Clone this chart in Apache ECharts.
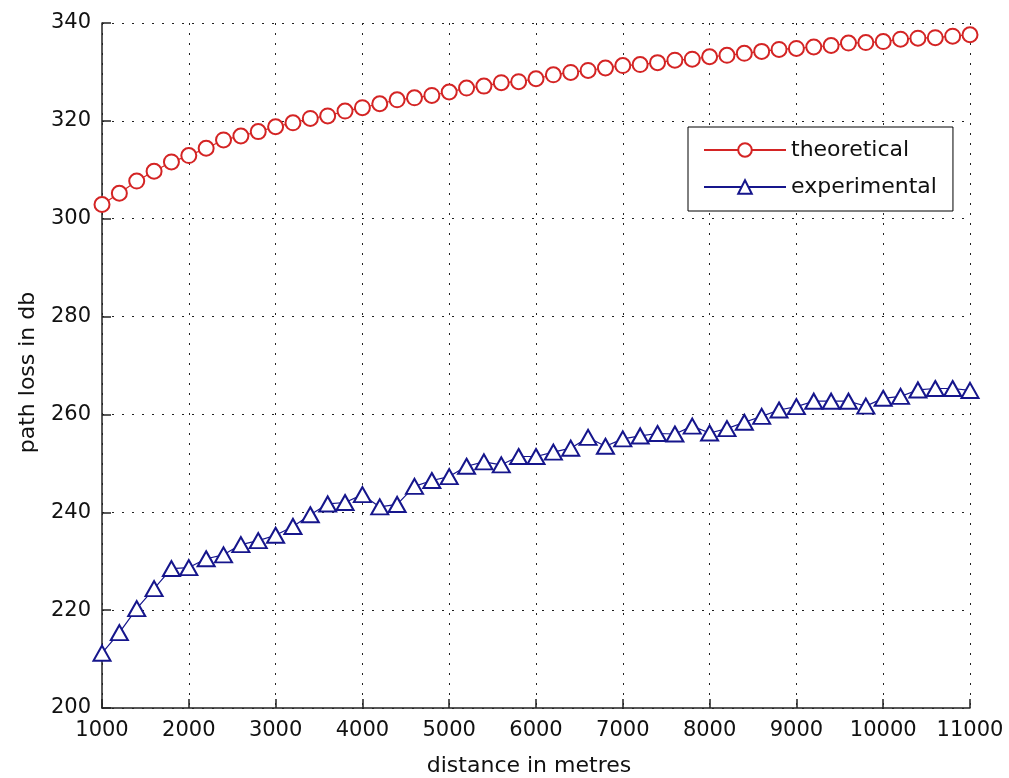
<!DOCTYPE html>
<html>
<head>
<meta charset="utf-8">
<title>path loss</title>
<script src="https://cdn.jsdelivr.net/npm/echarts@6/dist/echarts.min.js"></script>
<style>
  html, body { margin: 0; padding: 0; background: #fff; }
  #chart { width: 1009px; height: 778px; }
</style>
</head>
<body>
<div id="chart"></div>
<script>
'use strict';
// distances in metres (x values)
const distances = [1000, 1200, 1400, 1600, 1800, 2000, 2200, 2400, 2600, 2800,
  3000, 3200, 3400, 3600, 3800, 4000, 4200, 4400, 4600, 4800,
  5000, 5200, 5400, 5600, 5800, 6000, 6200, 6400, 6600, 6800,
  7000, 7200, 7400, 7600, 7800, 8000, 8200, 8400, 8600, 8800,
  9000, 9200, 9400, 9600, 9800, 10000, 10200, 10400, 10600, 10800, 11000];

// path loss
const theoretical = [302.9, 305.2, 307.7, 309.7, 311.6, 312.9, 314.4, 316.1, 316.9, 317.8,
  318.8, 319.6, 320.5, 321.0, 322.0, 322.7, 323.5, 324.3, 324.7, 325.2,
  325.9, 326.7, 327.1, 327.8, 328.0, 328.6, 329.4, 329.9, 330.3, 330.8,
  331.3, 331.5, 331.9, 332.4, 332.6, 333.1, 333.4, 333.8, 334.2, 334.6,
  334.8, 335.1, 335.4, 335.9, 336.0, 336.2, 336.7, 336.9, 337.0, 337.3, 337.6];

const experimental = [211.2, 215.4, 220.3, 224.4, 228.5, 228.7, 230.5, 231.3, 233.4, 234.2,
  235.3, 237.1, 239.5, 241.7, 242.0, 243.6, 241.1, 241.6, 245.3, 246.5,
  247.3, 249.4, 250.3, 249.7, 251.4, 251.4, 252.3, 253.1, 255.3, 253.5,
  255.0, 255.6, 256.1, 256.0, 257.6, 256.2, 257.1, 258.4, 259.6, 260.9,
  261.6, 262.7, 262.7, 262.7, 261.7, 263.3, 263.7, 265.0, 265.3, 265.3, 264.9];

const xTicks = [1000, 11000, 1000];   // min, max, step
const yTicks = [200, 340, 20];

function pairs(xs, ys) {
  let out = [];
  for (let i = 0; i < xs.length; i++) {
    out.push([xs[i], ys[i]]);
  }
  return out;
}

var RED = '#d42424';
var BLUE = '#16168c';
var FONT = 'DejaVu Sans';

var gridDots = {
  show: true,
  lineStyle: { color: '#222', width: 1, type: [2, 8] }
};

var chart = echarts.init(document.getElementById('chart'));

var option = {
  animation: false,
  backgroundColor: '#fff',
  // keep the plot box where it is, names may sit near the edge
  grid: { left: 102, right: 39, top: 23, bottom: 70, containLabel: false, outerBoundsMode: 'none' },
  legend: {
    orient: 'vertical',
    left: 688,
    top: 127,
    padding: [12, 16, 13, 15],
    itemWidth: 82,
    itemHeight: 17,
    itemGap: 15,
    borderColor: '#000',
    borderWidth: 1,
    borderRadius: 0,
    backgroundColor: '#fff',
    textStyle: { fontFamily: FONT, fontSize: 22, lineHeight: 22, color: '#111' },
    data: ['theoretical', 'experimental']
  },
  xAxis: {
    type: 'value',
    min: xTicks[0],
    max: xTicks[1],
    interval: xTicks[2],
    name: 'distance in metres',
    nameLocation: 'middle',
    nameGap: 47,
    nameTextStyle: { fontFamily: FONT, fontSize: 22, color: '#111', padding: [0, 14, 0, 0] },
    axisLine: { show: true, lineStyle: { color: '#222', width: 1.5 } },
    axisTick: { show: true, inside: true, length: 9, lineStyle: { color: '#222', width: 1.5 } },
    axisLabel: {
      fontFamily: FONT, fontSize: 21, lineHeight: 21, color: '#111', margin: 12,
      formatter: function (v) { return String(v); }
    },
    splitLine: gridDots
  },
  yAxis: {
    type: 'value',
    min: yTicks[0],
    max: yTicks[1],
    interval: yTicks[2],
    name: 'path loss in db',
    nameLocation: 'middle',
    nameGap: 63,
    nameTextStyle: { fontFamily: FONT, fontSize: 22, color: '#111', padding: [0, 14, 0, 0] },
    axisLine: { show: true, lineStyle: { color: '#222', width: 1.5 } },
    axisTick: { show: true, inside: true, length: 9, lineStyle: { color: '#222', width: 1.5 } },
    axisLabel: { fontFamily: FONT, fontSize: 21, color: '#111', margin: 11 },
    splitLine: gridDots
  },
  series: [
    {
      name: 'theoretical',
      type: 'line',
      data: pairs(distances, theoretical),
      symbol: 'emptyCircle',
      symbolSize: 15,
      showAllSymbol: true,
      lineStyle: { color: RED, width: 1.2 },
      itemStyle: { color: RED, borderColor: RED, borderWidth: 1.2 }
    },
    {
      name: 'experimental',
      type: 'line',
      data: pairs(distances, experimental),
      symbol: 'emptyTriangle',
      symbolSize: [17, 15],
      showAllSymbol: true,
      lineStyle: { color: BLUE, width: 1.2 },
      itemStyle: { color: BLUE, borderColor: BLUE, borderWidth: 1.2 }
    }
  ]
};

chart.setOption(option);
</script>
</body>
</html>
